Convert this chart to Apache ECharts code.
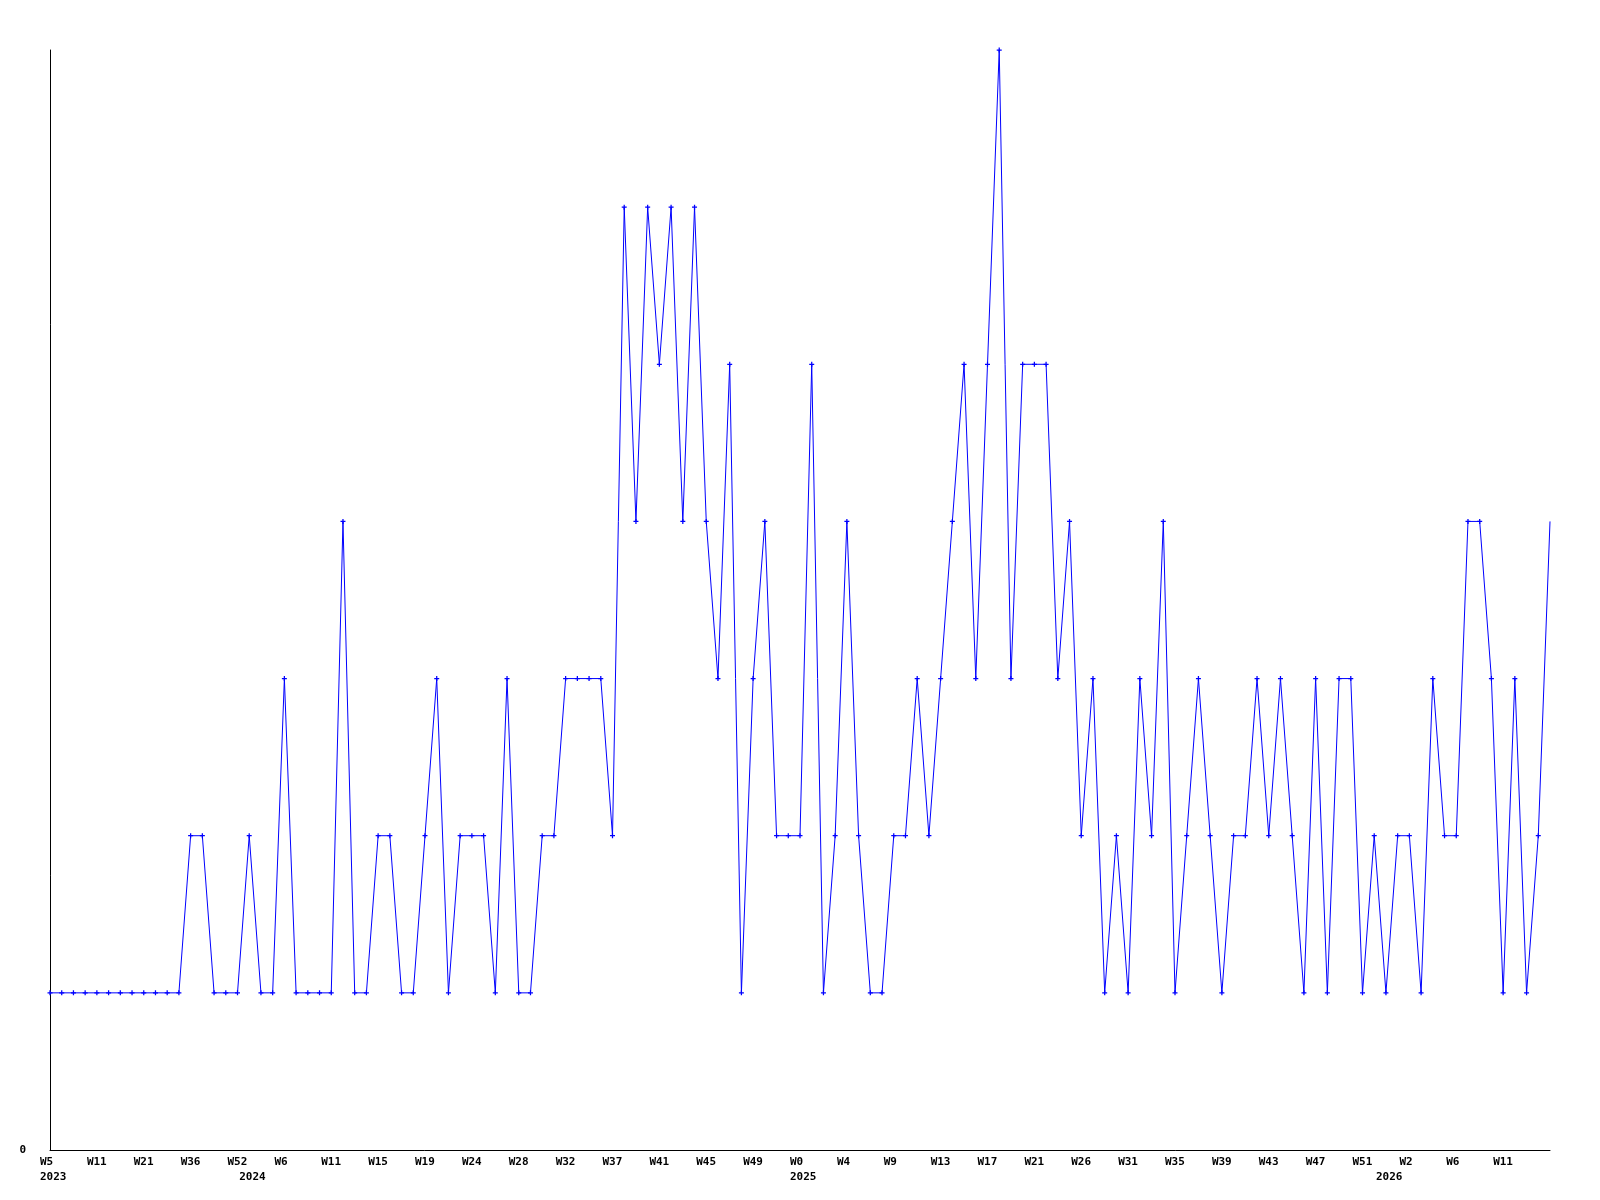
<!DOCTYPE html>
<html>
<head>
<meta charset="utf-8">
<script src="https://cdn.jsdelivr.net/npm/echarts@6/dist/echarts.min.js"></script>
<style>html,body{margin:0;padding:0;background:#fff}#c{width:1600px;height:1200px}</style>
</head>
<body>
<div id="c"></div>
<script>
// weekly values (129 weeks)
const values = [
  1,1,1,1,1,1,1,1,1,1,1,1,
  2,2,1,1,1,2,1,1,3,1,1,1,1,4,1,1,2,2,1,1,2,3,1,2,2,2,1,3,1,1,2,2,3,3,3,3,2,
  6,4,6,5,6,4,6,4,3,5,1,3,4,2,2,2,
  5,1,2,4,2,1,1,2,2,3,2,3,4,5,3,5,7,3,5,5,5,3,4,2,3,1,2,1,3,2,4,1,2,3,2,1,2,2,3,2,3,2,1,3,1,3,3,1,2,
  1,2,2,1,3,2,2,4,4,3,1,3,1,2,4
];
// week tick labels, shown every 4th category
const tickLabels = ['W5','W11','W21','W36','W52','W6','W11','W15','W19','W24','W28','W32','W37','W41','W45','W49',
  'W0','W4','W9','W13','W17','W21','W26','W31','W35','W39','W43','W47','W51','W2','W6','W11'];
// year labels at category index
const yearIdx = [0, 17, 64, 114];
const yearLabels = ['2023','2024','2025','2026'];
const categories = values.map((v, i) => String(i));

const plusPath = 'path://M3,0H5V3H8V5H5V8H3V5H0V3H3Z';
const seriesData = values.map((v, i) => i === values.length - 1 ? {value: v, symbol: 'none'} : v);

const chart = echarts.init(document.getElementById('c'), null, {renderer: 'canvas'});
chart.setOption({
  animation: false,
  backgroundColor: '#ffffff',
  grid: {left: 50, right: 50, top: 50, bottom: 50, containLabel: false},
  xAxis: {
    type: 'category',
    data: categories,
    boundaryGap: false,
    axisLine: {show: true, lineStyle: {color: '#000', width: 1}},
    axisTick: {show: false},
    splitLine: {show: false},
    axisLabel: {
      interval: function (index) { return index % 4 === 0 || yearIdx.indexOf(index) >= 0; },
      formatter: function (value, index) {
        const w = index % 4 === 0 ? (tickLabels[index / 4] || '') : '';
        const yi = yearIdx.indexOf(index);
        return yi >= 0 ? w + '\n' + yearLabels[yi] : w;
      },
      align: 'left',
      padding: [0, 0, 0, -10],
      margin: 5,
      lineHeight: 15,
      color: '#000',
      fontFamily: 'DejaVu Sans Mono',
      fontWeight: 'bold',
      fontSize: 11
    }
  },
  yAxis: {
    type: 'value',
    min: 0,
    max: 7,
    interval: 7,
    axisLine: {show: true, lineStyle: {color: '#000', width: 1}},
    axisTick: {show: false},
    splitLine: {show: false},
    axisLabel: {
      showMaxLabel: false,
      margin: 24,
      color: '#000',
      fontFamily: 'DejaVu Sans Mono',
      fontWeight: 'bold',
      fontSize: 11
    }
  },
  series: [{
    type: 'line',
    data: seriesData,
    symbol: plusPath,
    symbolSize: 5,
    showAllSymbol: true,
    lineStyle: {color: '#0000ff', width: 1},
    itemStyle: {color: '#0000ff', borderWidth: 0}
  }]
});
</script>
</body>
</html>
